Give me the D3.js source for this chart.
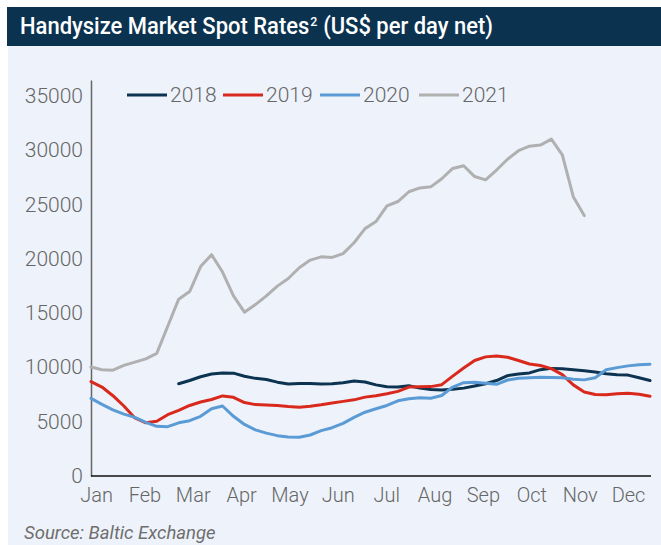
<!DOCTYPE html>
<html>
<head>
<meta charset="utf-8">
<script src="https://cdn.jsdelivr.net/npm/d3@7"></script>
<style>
  body { margin: 0; background: #fff; }
  text { font-family: Roboto, "Noto Sans", sans-serif; }
</style>
</head>
<body>
<div id="chart"></div>
<script>
const Width = 661;
const Height = 545;

// weekly spot rates, week 0 = start of Jan
const months = ["Jan", "Feb", "Mar", "Apr", "May", "Jun", "Jul", "Aug", "Sep", "Oct", "Nov", "Dec"];
const yTicks = [0, 5000, 10000, 15000, 20000, 25000, 30000, 35000];
const years = ["2018", "2019", "2020", "2021"];

const rates2018 = [null, null, null, null, null, null, null, null,
  8500, 8800, 9150, 9400, 9500, 9480, 9200, 9000, 8900, 8650, 8480, 8520,
  8530, 8480, 8500, 8600, 8750, 8660, 8400, 8230, 8200, 8320, 8100, 7980,
  7930, 8000, 8100, 8300, 8500, 8800, 9250, 9400, 9500, 9800, 9920, 9880,
  9800, 9700, 9580, 9430, 9340, 9300, 9050, 8800];
const rates2019 = [8700, 8200, 7400, 6450, 5350, 4900, 5050, 5650, 6050, 6500,
  6820, 7050, 7380, 7250, 6770, 6580, 6540, 6500, 6400, 6340, 6430, 6560,
  6720, 6880, 7020, 7270, 7400, 7580, 7800, 8200, 8230, 8240, 8420, 9200,
  9950, 10650, 10980, 11050, 10950, 10650, 10320, 10180, 9900, 9350, 8400,
  7750, 7510, 7480, 7580, 7620, 7540, 7350];
const rates2020 = [7150, 6600, 6100, 5700, 5400, 4950, 4580, 4550, 4900, 5100,
  5500, 6200, 6450, 5500, 4750, 4250, 3950, 3720, 3600, 3580, 3780, 4180,
  4450, 4850, 5400, 5880, 6200, 6500, 6930, 7120, 7220, 7170, 7420, 8200,
  8600, 8650, 8550, 8450, 8850, 9000, 9050, 9100, 9080, 9050, 8910, 8860,
  9050, 9800, 9990, 10150, 10250, 10300];
const rates2021 = [10050, 9800, 9750, 10200, 10500, 10800, 11300, 13800, 16300,
  17000, 19300, 20400, 18800, 16600, 15100, 15800, 16600, 17500, 18200, 19200,
  19900, 20200, 20150, 20500, 21500, 22800, 23450, 24900, 25300, 26200, 26550,
  26650, 27400, 28350, 28600, 27600, 27300, 28200, 29200, 29980, 30400, 30500,
  31050, 29600, 25740, 24000];

const colors = ["#0c3350", "#d9291c", "#5b9bd5", "#b0b0b0"];
const series = [rates2018, rates2019, rates2020, rates2021];

const svg = d3.select("#chart").append("svg").attr("width", Width).attr("height", Height);

// panel + title bar
svg.append("rect").attr("x", 8).attr("y", 46).attr("width", Width - 8).attr("height", Height - 46).attr("fill", "#eef3fb");
svg.append("rect").attr("x", 7).attr("y", 7).attr("width", Width - 7).attr("height", 39).attr("fill", "#0b3350");

// title: three pieces laid side by side, then squeezed to the reference width
const titleG = svg.append("g");
const t1 = titleG.append("text").attr("x", 0).attr("y", 0).attr("fill", "white")
    .style("font-size", "23px").style("font-weight", 500).text("Handysize Market Spot Rates");
const w1 = t1.node().getComputedTextLength();
const t2 = titleG.append("text").attr("x", w1 + 1).attr("y", -8).attr("fill", "white")
    .style("font-size", "13px").style("font-weight", 500).text("2");
const w2 = t2.node().getComputedTextLength();
const gap = 6;
const t3 = titleG.append("text").attr("x", w1 + w2 + 1 + gap).attr("y", 0).attr("fill", "white")
    .style("font-size", "23px").style("font-weight", 500).text("(US$ per day net)");
const totalW = w1 + w2 + 1 + gap + t3.node().getComputedTextLength();
titleG.attr("transform", `translate(20,34) scale(${473 / totalW},1)`);

const x = d3.scaleLinear().domain([0, 51]).range([91, 650]);
const xMonth = d3.scalePoint().domain(months).range([96, 628]);
const y = d3.scaleLinear().domain([0, 36500]).range([476, 80]);

// y axis
const yAxis = svg.append("g")
    .attr("transform", "translate(91,0)")
    .call(d3.axisLeft(y).tickValues(yTicks).tickSize(0).tickPadding(8).tickFormat(d3.format("d")));
yAxis.select(".domain").attr("stroke", "#666").attr("stroke-width", 1.5);
yAxis.selectAll("text").attr("fill", "#666").style("font-size", "21px").style("font-weight", 300).attr("dy", "0.3em");

// x axis
const xAxis = svg.append("g")
    .attr("transform", "translate(0,476)")
    .call(d3.axisBottom(xMonth).tickSize(0).tickPadding(12));
xAxis.select(".domain").remove();
xAxis.selectAll("text").attr("fill", "#666").style("font-size", "20px").style("font-weight", 300);
svg.append("line")
    .attr("x1", x.range()[0]).attr("x2", x.range()[1] + 1)
    .attr("y1", 476).attr("y2", 476)
    .attr("stroke", "#111").attr("stroke-width", 1.5);

// lines
const line = d3.line()
    .defined(d => d != null)
    .x((d, i) => x(i))
    .y(d => y(d));

series.forEach((s, k) => {
    svg.append("path")
        .attr("d", line(s))
        .attr("fill", "none")
        .attr("stroke", colors[k])
        .attr("stroke-width", 3)
        .attr("stroke-linejoin", "round")
        .attr("stroke-linecap", "round");
});

// legend
const legendX = [127, 223, 320, 419];
years.forEach((yr, k) => {
    const g = svg.append("g").attr("transform", `translate(${legendX[k]},95)`);
    g.append("line").attr("x1", 0).attr("x2", 40).attr("y1", 0).attr("y2", 0)
        .attr("stroke", colors[k]).attr("stroke-width", 3);
    g.append("text").attr("x", 43).attr("y", 0).attr("dy", "0.35em")
        .attr("fill", "#666").style("font-size", "21px").style("font-weight", 300)
        .text(yr);
});

// source
svg.append("text")
    .attr("x", 24)
    .attr("y", 539)
    .attr("fill", "#6e6e6e")
    .style("font-size", "18.5px")
    .style("font-style", "italic")
    .text("Source: Baltic Exchange");
</script>
</body>
</html>
